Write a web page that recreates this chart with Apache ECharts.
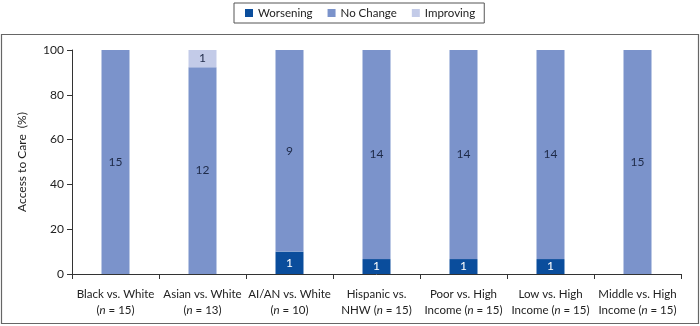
<!DOCTYPE html>
<html>
<head>
<meta charset="utf-8">
<script src="https://cdn.jsdelivr.net/npm/echarts@6/dist/echarts.min.js"></script>
<style>
  html, body { margin: 0; padding: 0; background: #fff; }
  #chart { width: 700px; height: 326px; }
</style>
</head>
<body>
<div id="chart"></div>
<script>
// Comparison groups and their number of measures (n)
const categories = [
  'Black vs. White', 'Asian vs. White', 'AI/AN vs. White', 'Hispanic vs.\nNHW',
  'Poor vs. High\nIncome', 'Low vs. High\nIncome', 'Middle vs. High\nIncome'
];
const totals = [15, 13, 10, 15, 15, 15, 15];

// Count of measures in each status, per comparison group
const worsening = [0, 0, 1, 1, 1, 1, 0];
const noChange  = [15, 12, 9, 14, 14, 14, 15];
const improving = [0, 1, 0, 0, 0, 0, 0];

const yTicks = [0, 20, 40, 60, 80, 100];

const colors = { worsening: '#0a4d9c', noChange: '#7b93cb', improving: '#c3cbe8' };
const fontFamily = 'Lato, "Liberation Sans", sans-serif';

// Percent of the group's measures, used as the bar height
function pct(counts) {
  return counts.map((c, i) => ({ value: c / totals[i] * 100, count: c }));
}

function xLabel(name, i) {
  const lines = name.split('\n');
  const nPart = '({i|n} = ' + totals[i] + ')';
  if (lines.length === 1) return lines[0] + '\n' + nPart;
  return lines[0] + '\n' + lines[1] + ' ' + nPart;
}

function seriesOf(name, counts, color, labelColor) {
  return {
    name: name,
    type: 'bar',
    stack: 'total',
    barWidth: 28,
    data: pct(counts),
    itemStyle: { color: color },
    label: {
      show: true,
      position: 'inside',
      color: labelColor,
      fontFamily: fontFamily,
      fontSize: 12,
      formatter: p => (p.data.count > 0 ? String(p.data.count) : '')
    }
  };
}

const chart = echarts.init(document.getElementById('chart'), null, { renderer: 'canvas' });
chart.setOption({
  animation: false,
  backgroundColor: '#fff',
  textStyle: { fontFamily: fontFamily },
  graphic: [{
    type: 'rect',
    shape: { x: 1.5, y: 34.5, width: 697, height: 289 },
    style: { fill: 'none', stroke: '#666', lineWidth: 1.2 },
    silent: true
  }],
  legend: {
    top: 3,
    left: 234,
    itemWidth: 8,
    itemHeight: 8,
    itemGap: 15,
    icon: 'rect',
    borderColor: '#555',
    borderWidth: 1,
    padding: [4, 9, 4, 11],
    textStyle: { fontSize: 11.5, color: '#222', fontFamily: fontFamily },
    data: ['Worsening', 'No Change', 'Improving']
  },
  grid: { left: 72, right: 19, top: 50, bottom: 52 },
  xAxis: {
    type: 'category',
    data: categories,
    axisLine: { lineStyle: { color: '#333', width: 1 } },
    axisTick: { show: true, length: 5, alignWithLabel: false, lineStyle: { color: '#333' } },
    axisLabel: {
      interval: 0,
      margin: 12,
      color: '#222',
      fontSize: 11.5,
      lineHeight: 16,
      fontFamily: fontFamily,
      formatter: (v, i) => xLabel(v, i),
      rich: { i: { fontStyle: 'italic', fontSize: 11.5, color: '#222', fontFamily: fontFamily } }
    }
  },
  yAxis: {
    type: 'value',
    min: yTicks[0],
    max: yTicks[yTicks.length - 1],
    interval: yTicks[1] - yTicks[0],
    name: 'Access to Care  (%)',
    nameLocation: 'middle',
    nameGap: 44,
    nameTextStyle: { fontSize: 12, color: '#222', fontFamily: fontFamily },
    axisLine: { show: true, lineStyle: { color: '#333', width: 1 } },
    axisTick: { show: true, length: 5, lineStyle: { color: '#333' } },
    axisLabel: { color: '#222', fontSize: 12, margin: 8, fontFamily: fontFamily },
    splitLine: { show: false }
  },
  series: [
    seriesOf('Worsening', worsening, colors.worsening, '#fff'),
    seriesOf('No Change', noChange, colors.noChange, '#1e2a48'),
    seriesOf('Improving', improving, colors.improving, '#1e2a48')
  ]
});
</script>
</body>
</html>
